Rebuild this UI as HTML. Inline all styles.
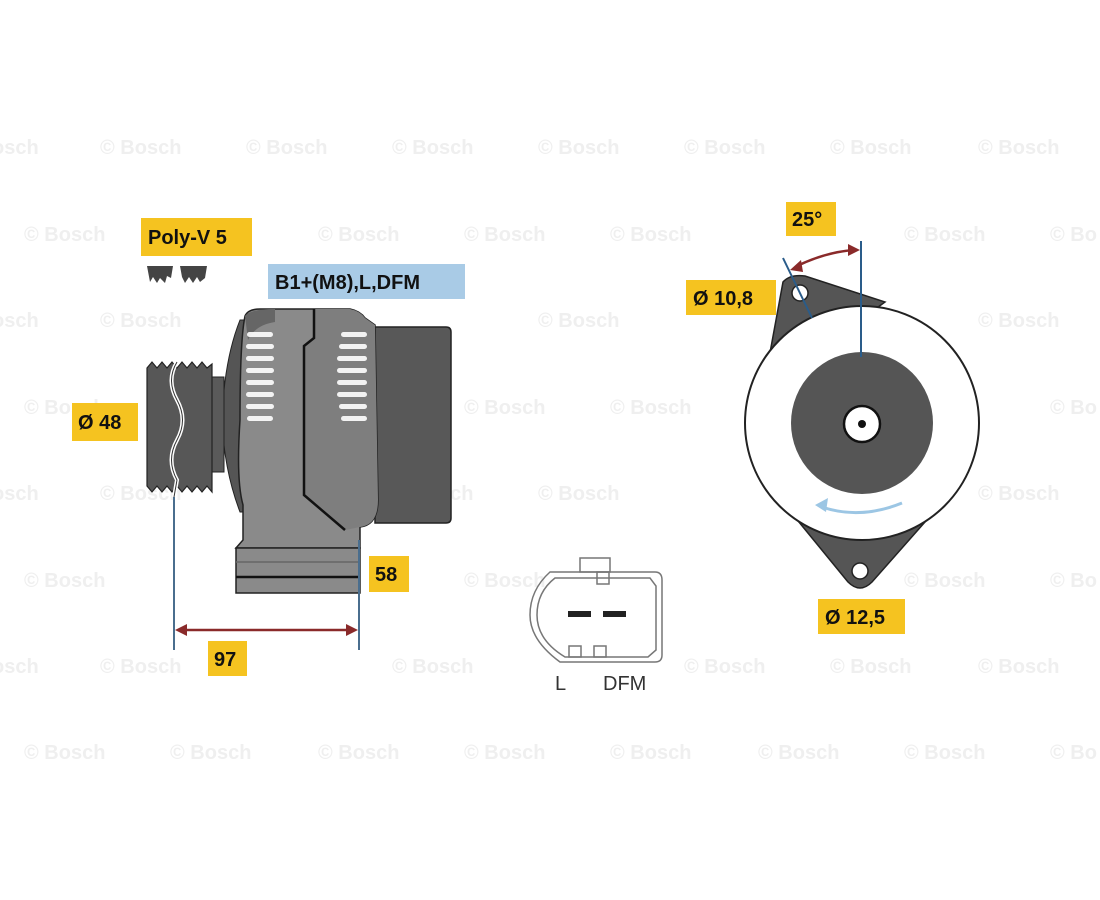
<!DOCTYPE html>
<html><head><meta charset="utf-8"><style>
html,body{margin:0;padding:0;background:#fff;}
svg{display:block;}
.wm{font-family:"Liberation Sans",sans-serif;font-weight:bold;font-size:20px;fill:#efefef;}
.lb{font-family:"Liberation Sans",sans-serif;font-weight:bold;font-size:20px;fill:#111;}
</style></head><body>
<svg width="1100" height="900" viewBox="0 0 1100 900" xmlns="http://www.w3.org/2000/svg">
<g class="wm">
<text x="-8" y="154">osch</text><text x="100" y="154">© Bosch</text><text x="246" y="154">© Bosch</text><text x="392" y="154">© Bosch</text><text x="538" y="154">© Bosch</text><text x="684" y="154">© Bosch</text><text x="830" y="154">© Bosch</text><text x="978" y="154">© Bosch</text>
<text x="24" y="241">© Bosch</text><text x="318" y="241">© Bosch</text><text x="464" y="241">© Bosch</text><text x="610" y="241">© Bosch</text><text x="904" y="241">© Bosch</text><text x="1050" y="241">© Bo</text>
<text x="-8" y="327">osch</text><text x="100" y="327">© Bosch</text><text x="538" y="327">© Bosch</text><text x="978" y="327">© Bosch</text>
<text x="24" y="414">© Bosch</text><text x="464" y="414">© Bosch</text><text x="610" y="414">© Bosch</text><text x="1050" y="414">© Bo</text>
<text x="-8" y="500">osch</text><text x="100" y="500">© Bosch</text><text x="392" y="500">© Bosch</text><text x="538" y="500">© Bosch</text><text x="978" y="500">© Bosch</text>
<text x="24" y="587">© Bosch</text><text x="464" y="587">© Bosch</text><text x="904" y="587">© Bosch</text><text x="1050" y="587">© Bo</text>
<text x="-8" y="673">osch</text><text x="100" y="673">© Bosch</text><text x="392" y="673">© Bosch</text><text x="684" y="673">© Bosch</text><text x="830" y="673">© Bosch</text><text x="978" y="673">© Bosch</text>
<text x="24" y="759">© Bosch</text><text x="170" y="759">© Bosch</text><text x="318" y="759">© Bosch</text><text x="464" y="759">© Bosch</text><text x="610" y="759">© Bosch</text><text x="758" y="759">© Bosch</text><text x="904" y="759">© Bosch</text><text x="1050" y="759">© Bo</text>
</g>

<path d="M147 266 L173 266 L171 278 L167 276 L165 283 L160 278 L157 283 L153 277 L150 282 Z" fill="#444"/>
<path d="M180 266 L207 266 L205 278 L200 282 L197 277 L193 283 L189 277 L185 283 L182 277 Z" fill="#444"/>

<path d="M375 327 L446 327 Q451 327 451 332 L451 518 Q451 523 446 523 L375 523 Z" fill="#585858" stroke="#222" stroke-width="1.5"/>
<path d="M240 320 Q224 360 222 420 Q224 470 240 512 L248 512 L248 320 Z" fill="#555" stroke="#222" stroke-width="1"/>
<path d="M245 316 Q248 309 260 309 L350 309 Q360 311 365 318 L375 325 L378 500 Q378 525 360 527 L360 548 L236 548 L243 540 L243 505 Q236 480 240 420 Q240 340 245 316 Z" fill="#8a8a8a" stroke="#222" stroke-width="1.5"/>
<path d="M245 316 Q250 309 275 309 L275 322 Q255 325 248 340 Z" fill="#666"/>
<path d="M314 309 L350 309 Q360 311 365 318 L375 325 L378 500 Q378 525 360 527 L345 530 L304 495 L304 346 L314 338 Z" fill="#7e7e7e"/>
<path d="M314 309 L314 338 L304 346 L304 495 L345 530" fill="none" stroke="#111" stroke-width="2.5"/>
<g fill="#fff" opacity="0.9">
<rect x="247" y="332" width="26" height="5" rx="2.5"/><rect x="246" y="344" width="28" height="5" rx="2.5"/><rect x="246" y="356" width="28" height="5" rx="2.5"/><rect x="246" y="368" width="28" height="5" rx="2.5"/><rect x="246" y="380" width="28" height="5" rx="2.5"/><rect x="246" y="392" width="28" height="5" rx="2.5"/><rect x="246" y="404" width="28" height="5" rx="2.5"/><rect x="247" y="416" width="26" height="5" rx="2.5"/>
<rect x="341" y="332" width="26" height="5" rx="2.5"/><rect x="339" y="344" width="28" height="5" rx="2.5"/><rect x="337" y="356" width="30" height="5" rx="2.5"/><rect x="337" y="368" width="30" height="5" rx="2.5"/><rect x="337" y="380" width="30" height="5" rx="2.5"/><rect x="337" y="392" width="30" height="5" rx="2.5"/><rect x="339" y="404" width="28" height="5" rx="2.5"/><rect x="341" y="416" width="26" height="5" rx="2.5"/>
</g>
<rect x="236" y="548" width="124" height="45" fill="#8a8a8a" stroke="#222" stroke-width="1.5"/>
<line x1="236" y1="562" x2="360" y2="562" stroke="#666" stroke-width="1.5"/>
<line x1="236" y1="577" x2="360" y2="577" stroke="#111" stroke-width="2.5"/>
<rect x="212" y="377" width="12" height="95" fill="#5a5a5a" stroke="#222" stroke-width="1"/>
<path d="M147 368 L152 362 L157 368 L162 362 L167 368 L172 362 L177 368 L182 362 L187 368 L192 362 L197 368 L202 362 L207 368 L212 364 L212 492 L207 486 L202 492 L197 486 L192 492 L187 486 L182 492 L177 486 L172 492 L167 486 L162 492 L157 486 L152 492 L147 486 Z" fill="#575757" stroke="#222" stroke-width="1.2"/>
<path d="M177 362 Q166 380 177 400 Q188 420 177 440 Q166 460 177 480 L174 497" fill="none" stroke="#fff" stroke-width="4"/>
<path d="M177 362 Q166 380 177 400 Q188 420 177 440 Q166 460 177 480 L174 497" fill="none" stroke="#333" stroke-width="1"/>

<line x1="174" y1="497" x2="174" y2="650" stroke="#4a6e8e" stroke-width="2"/>
<line x1="359" y1="540" x2="359" y2="650" stroke="#4a6e8e" stroke-width="2"/>
<line x1="182" y1="630" x2="351" y2="630" stroke="#8a2a2a" stroke-width="2.5"/>
<path d="M175 630 L187 624 L187 636 Z" fill="#8a2a2a"/><path d="M358 630 L346 624 L346 636 Z" fill="#8a2a2a"/>

<g fill="none" stroke="#777" stroke-width="1.5">
<rect x="580" y="558" width="30" height="14"/>
<rect x="597" y="572" width="12" height="12"/>
<path d="M550 572 L655 572 Q662 572 662 580 L662 655 Q662 662 655 662 L560 662 Q530 640 530 615 Q530 590 550 572 Z"/>
<path d="M555 578 L650 578 L656 586 L656 650 L648 657 L565 657 Q537 640 537 615 Q537 592 555 578 Z"/>
<rect x="569" y="646" width="12" height="11"/><rect x="594" y="646" width="12" height="11"/>
</g>
<rect x="568" y="611" width="23" height="6" fill="#222"/><rect x="603" y="611" width="23" height="6" fill="#222"/>
<text x="555" y="690" font-family="Liberation Sans,sans-serif" font-size="20" fill="#333">L</text>
<text x="603" y="690" font-family="Liberation Sans,sans-serif" font-size="20" fill="#333">DFM</text>

<path d="M783 282 Q790 274 805 276 L885 302 L765 390 L765 380 Z" fill="#555" stroke="#222" stroke-width="1.5"/>
<path d="M785 505 L848 582 Q860 594 872 582 L940 505 Z" fill="#555" stroke="#222" stroke-width="1.5"/>
<circle cx="862" cy="423" r="117" fill="#fff" stroke="#222" stroke-width="2"/>
<circle cx="862" cy="423" r="71" fill="#555"/>
<circle cx="862" cy="424" r="18" fill="#fff" stroke="#111" stroke-width="2.5"/>
<circle cx="862" cy="424" r="4" fill="#111"/>
<circle cx="800" cy="293" r="8" fill="#fff" stroke="#222" stroke-width="1.5"/>
<circle cx="860" cy="571" r="8" fill="#fff" stroke="#222" stroke-width="1.5"/>
<path d="M822 507 Q860 520 902 503" fill="none" stroke="#9cc6e4" stroke-width="3"/>
<path d="M815 505 L828 498 L826 512 Z" fill="#9cc6e4"/>
<line x1="861" y1="241" x2="861" y2="357" stroke="#2a5c8a" stroke-width="2"/>
<line x1="783" y1="258" x2="812" y2="318" stroke="#2a5c8a" stroke-width="2"/>
<path d="M797 266 Q826 252 854 250" fill="none" stroke="#8a2a2a" stroke-width="2.5"/>
<path d="M790 270 L801 260 L803 272 Z" fill="#8a2a2a"/><path d="M860 250 L848 244 L848 256 Z" fill="#8a2a2a"/>

<rect x="141" y="218" width="111" height="38" fill="#f5c320"/><text x="148" y="244" class="lb">Poly-V 5</text>
<rect x="268" y="264" width="197" height="35" fill="#a9cbe6"/><text x="275" y="289" class="lb">B1+(M8),L,DFM</text>
<rect x="72" y="403" width="66" height="38" fill="#f5c320"/><text x="78" y="429" class="lb">Ø 48</text>
<rect x="369" y="556" width="40" height="36" fill="#f5c320"/><text x="375" y="581" class="lb">58</text>
<rect x="208" y="641" width="39" height="35" fill="#f5c320"/><text x="214" y="666" class="lb">97</text>
<rect x="786" y="202" width="50" height="34" fill="#f5c320"/><text x="792" y="226" class="lb">25°</text>
<rect x="686" y="280" width="90" height="35" fill="#f5c320"/><text x="693" y="305" class="lb">Ø 10,8</text>
<rect x="818" y="599" width="87" height="35" fill="#f5c320"/><text x="825" y="624" class="lb">Ø 12,5</text>
</svg>
</body></html>
